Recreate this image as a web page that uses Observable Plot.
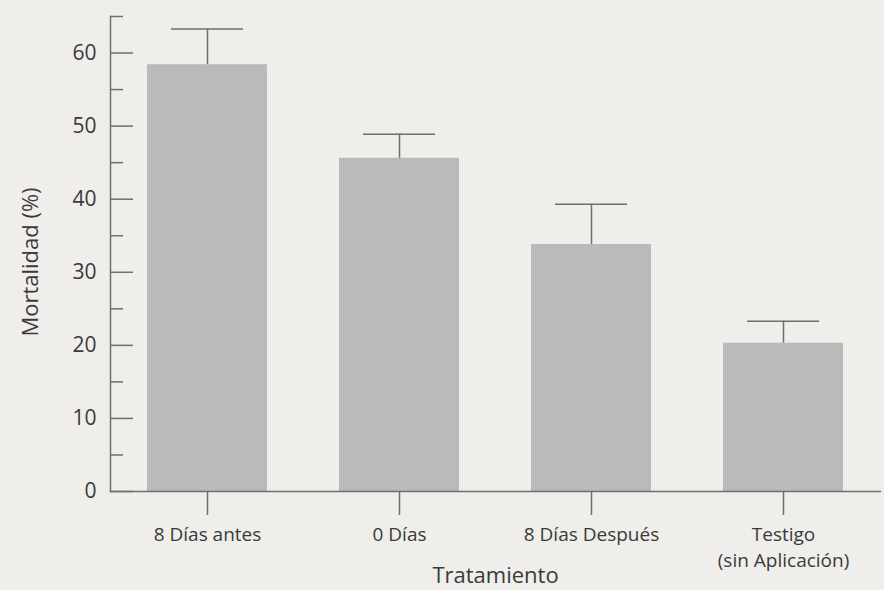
<!DOCTYPE html>
<html>
<head>
<meta charset="utf-8">
<script src="https://cdn.jsdelivr.net/npm/d3@7"></script>
<script src="https://cdn.jsdelivr.net/npm/@observablehq/plot@0.6"></script>
<style>
  html, body { margin: 0; padding: 0; background: #efeeea; }
  #chart svg { display: block; background: #efeeea; }
</style>
</head>
<body>
<div id="chart"></div>
<script>
const categories = ["8 Días antes", "0 Días", "8 Días Después", "Testigo\n(sin Aplicación)"];
const mortality = [58.4, 45.6, 33.8, 20.3];
const errorUpper = [63.3, 48.9, 39.3, 23.3];
const yMajorTicks = [0, 10, 20, 30, 40, 50, 60];
const yMinorTicks = [5, 15, 25, 35, 45, 55, 65];
const xTitle = "Tratamiento";
const yTitle = "Mortalidad (%)";

const data = categories.map((c, i) => ({cat: c, val: mortality[i], err: errorUpper[i]}));

const axisColor = "#6f6f6f";
const textColor = "#3a3a3a";
const W = 884, ML = 110, MR = 4;
const plotW = W - ML - MR;

const chart = Plot.plot({
  width: W,
  height: 590,
  marginTop: 16,
  marginLeft: ML,
  marginRight: MR,
  marginBottom: 99,
  style: {fontFamily: "'Open Sans', sans-serif", fontSize: "17px", color: textColor, background: "#efeeea"},
  x: {type: "band", domain: categories, paddingInner: 0.375, paddingOuter: 0.1875, label: null},
  y: {domain: [0, 65], label: null},
  marks: [
    Plot.barY(data, {x: "cat", y: "val", fill: "#bababa"}),
    Plot.ruleX(data, {x: "cat", y1: "val", y2: "err", stroke: axisColor, strokeWidth: 1.5}),
    Plot.tickY(data, {x: "cat", y: "err", stroke: axisColor, strokeWidth: 1.5, insetLeft: 24, insetRight: 24}),
    Plot.ruleY(yMajorTicks, {y: d => d, insetRight: plotW - 23, stroke: axisColor, strokeWidth: 1.5}),
    Plot.ruleY(yMinorTicks, {y: d => d, insetRight: plotW - 13, stroke: axisColor, strokeWidth: 1.5}),
    Plot.frame({anchor: "left", stroke: axisColor, strokeWidth: 1.5}),
    Plot.frame({anchor: "bottom", stroke: axisColor, strokeWidth: 1.5}),
    Plot.axisY({ticks: yMajorTicks, tickSize: 0, tickPadding: 14, fill: textColor, fontSize: 21, label: null}),
    Plot.axisX({tickSize: 24, tickPadding: 7, fill: textColor, stroke: axisColor, strokeWidth: 1.5,
      fontSize: 19, lineHeight: 1.37, label: null}),
    Plot.text([xTitle], {text: d => d, frameAnchor: "bottom", dy: 84, fontSize: 22, fill: textColor,
      textAnchor: "middle", lineAnchor: "middle"}),
    Plot.text([yTitle], {text: d => d, frameAnchor: "left", dx: -80, dy: 8, rotate: -90, fontSize: 22, fill: textColor,
      textAnchor: "middle", lineAnchor: "middle"})
  ]
});

document.getElementById("chart").appendChild(chart);
</script>
</body>
</html>
